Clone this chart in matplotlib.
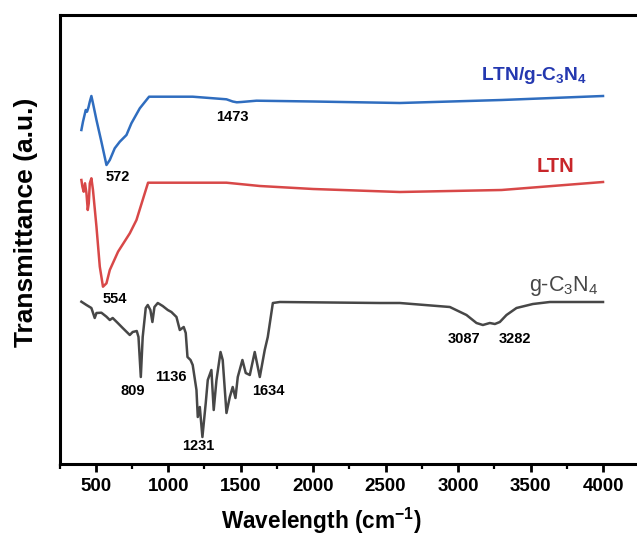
import matplotlib
matplotlib.use("Agg")
import matplotlib.pyplot as plt
from matplotlib.ticker import MultipleLocator

plt.rcParams['font.family'] = ['Liberation Sans', 'DejaVu Sans']
plt.rcParams['mathtext.fontset'] = 'custom'
plt.rcParams['mathtext.rm'] = 'Liberation Sans:bold'
plt.rcParams['mathtext.sf'] = 'Liberation Sans'
plt.rcParams['mathtext.default'] = 'rm'

# ---- data (arbitrary transmittance units, curves offset vertically) ----
wn_composite = [401, 412, 431, 440, 450, 459, 470, 481, 505, 539, 574, 597, 631, 666, 712, 746,
                804, 868, 1169, 1402, 1445, 1473, 1505, 1609, 2000, 2598, 3300, 4000]
tr_composite = [334, 342.3, 354, 352.3, 356.7, 362.3, 368, 360.7, 344, 322.3, 299, 304, 315.7,
                322.3, 329, 340.7, 355.7, 367.3, 367.3, 364.7, 362.5, 361.7, 362, 363.3, 362.5,
                361, 364, 368]

wn_ltn = [401, 408, 417, 426, 436, 445, 452, 459, 470, 481, 505, 528, 550, 574, 597, 654, 735,
          781, 861, 1402, 1632, 2000, 2598, 3300, 4000]
tr_ltn = [284, 277.3, 272.3, 280.7, 270.7, 254, 260.7, 280.7, 285.7, 274, 237.3, 197.3, 177.3,
          180.7, 194, 212.3, 230.7, 244, 281.3, 281.3, 278, 275, 272, 274, 282]

wn_gcn = [401, 436, 470, 493, 505, 539, 574, 597, 617, 652, 686, 735, 755, 783, 795, 811, 824,
          845, 859, 877, 891, 905, 928, 962, 997, 1022, 1057, 1080, 1107, 1121, 1133, 1154,
          1169, 1195, 1204, 1218, 1236, 1259, 1273, 1298, 1314, 1333, 1361, 1376, 1402, 1425,
          1445, 1464, 1480, 1512, 1535, 1563, 1597, 1632, 1666, 1687, 1722, 1770, 2460, 2598,
          2943, 3058, 3127, 3171, 3219, 3254, 3288, 3334, 3403, 3516, 3633, 4000]
tr_gcn = [162.3, 159, 156, 146, 151, 151.3, 147.3, 144, 146, 141, 136, 129, 132, 133, 127, 87,
          127, 156, 159, 154, 142, 157, 161, 158, 154, 152, 147, 134, 137, 131, 107, 104, 99,
          74, 47, 57, 27, 61, 84, 94, 54, 84, 112, 104, 51, 67, 77, 66, 87, 104, 91, 89, 112,
          87, 114, 127, 161, 162, 161, 161, 157, 149, 141, 139, 141, 140, 142, 149, 156, 160,
          162, 162]

peak_labels = [
    # (text, x, y)
    ("1473", 1445, 347),
    ("572", 650, 287),
    ("554", 630, 165),
    ("809", 755, 73),
    ("1136", 1020, 87),
    ("1231", 1210, 18),
    ("1634", 1690, 73),
    ("3087", 3040, 125),
    ("3282", 3390, 125),
]

xticks = [500, 1000, 1500, 2000, 2500, 3000, 3500, 4000]

c_blue, c_blue_txt = "#2F6DBF", "#2438B0"
c_red, c_red_txt = "#D84848", "#C8262A"
c_gray = "#474747"

fig = plt.figure(figsize=(6.37, 5.36), dpi=100)
ax = fig.add_axes([59.5 / 637, 72 / 536, 587 / 637, 449 / 536])

ax.plot(wn_composite, tr_composite, color=c_blue, lw=1.8)
ax.plot(wn_ltn, tr_ltn, color=c_red, lw=1.8)
ax.plot(wn_gcn, tr_gcn, color=c_gray, lw=1.8)

ax.set_xlim(250, 4300)
ax.set_ylim(0, 449)
ax.set_xticks(xticks)
ax.xaxis.set_minor_locator(MultipleLocator(250))
ax.set_yticks([])
for s in ax.spines.values():
    s.set_linewidth(2.2)
ax.spines['right'].set_visible(False)
ax.tick_params(axis='x', which='major', direction='out', length=6, width=2,
               labelsize=13.5, pad=4)
ax.tick_params(axis='x', which='minor', direction='out', length=3.5, width=1.6)
for lab in ax.get_xticklabels():
    lab.set_fontweight('bold')

ax.set_xlabel(r"Wavelength (cm$^{-1}$)", fontsize=16.3, fontweight='bold')
ax.xaxis.set_label_coords(0.447, -0.093)
ax.set_ylabel("Transmittance (a.u.)", fontsize=19, fontweight='bold')
ax.yaxis.set_label_coords(-0.036, 0.539)

for t, x, y in peak_labels:
    ax.text(x, y, t, fontsize=10.5, fontweight='bold', color='black', ha='center', va='center')

ax.text(3520, 388, r"LTN/g-C$_3$N$_4$", fontsize=13.8, fontweight='bold', color=c_blue_txt,
        ha='center', va='center')
ax.text(3674, 298, "LTN", fontsize=14.5, fontweight='bold', color=c_red_txt,
        ha='center', va='center')
ax.text(3730, 178, r"g-C$\mathsf{_3}$N$\mathsf{_4}$", fontsize=15.5, color=c_gray,
        ha='center', va='center')

fig.savefig("out.png", dpi=100)
